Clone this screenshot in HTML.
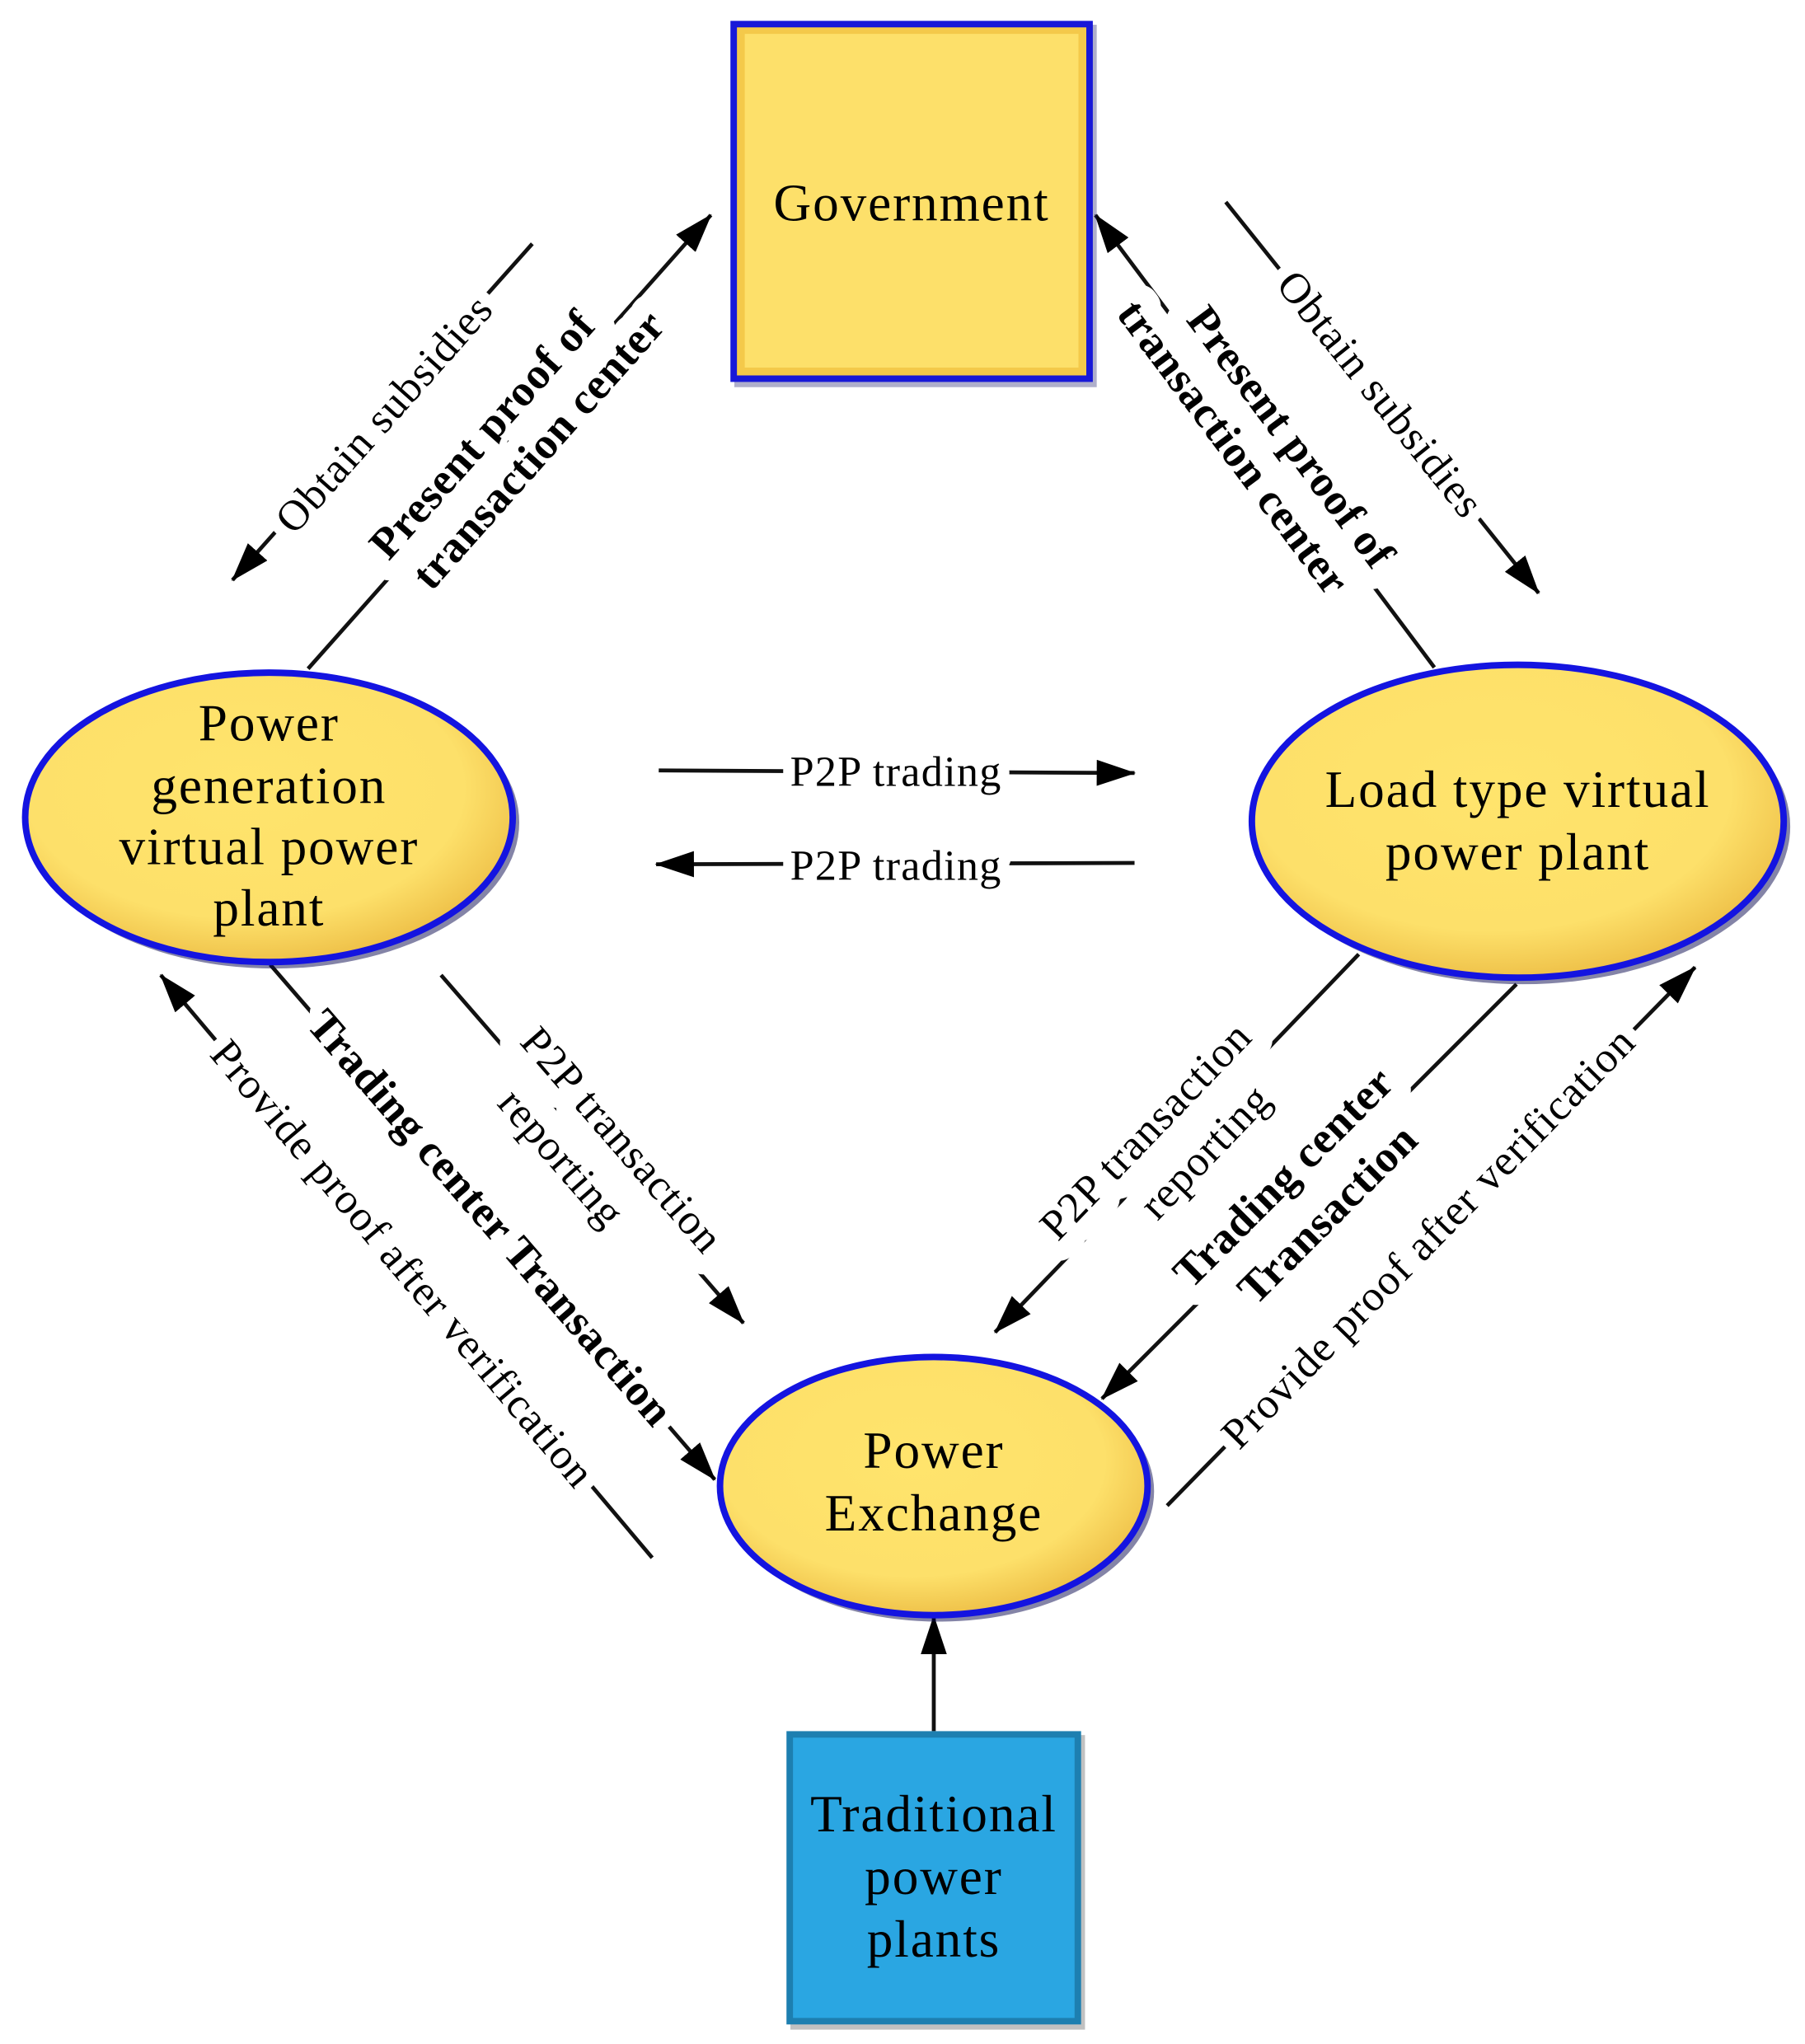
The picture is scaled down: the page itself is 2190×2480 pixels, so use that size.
<!DOCTYPE html>
<html><head><meta charset="utf-8"><style>
html,body{margin:0;padding:0;background:#fff}
svg{display:block}
text{font-family:"Liberation Serif",serif;fill:#000}
.e{font-size:33px;letter-spacing:0.8px}
.b{font-size:34px;font-weight:bold;letter-spacing:0.5px}
.n{font-size:40px;letter-spacing:1.2px}
.h{paint-order:stroke;stroke:#fff;stroke-width:18px;stroke-linejoin:round}
.h2{paint-order:stroke;stroke:#fff;stroke-width:30px;stroke-linejoin:round}
</style></head><body>
<svg width="2190" height="2480" viewBox="0 0 1384 1568" xmlns="http://www.w3.org/2000/svg">
<defs>
<radialGradient id="yg" cx="45%" cy="40%" r="60%">
<stop offset="0" stop-color="#ffe46c"/><stop offset="0.75" stop-color="#fde06a"/><stop offset="1" stop-color="#efc24a"/>
</radialGradient>
<marker id="ar" viewBox="0 0 30 20" refX="29" refY="10" markerWidth="30" markerHeight="20" markerUnits="userSpaceOnUse" orient="auto">
<path d="M0,0 L30,10 L0,20 Z" fill="#000"/>
</marker>
</defs>

<g stroke="#111" stroke-width="3" fill="none">
<line x1="236" y1="513" x2="545" y2="165" marker-end="url(#ar)"/>
<line x1="408" y1="187" x2="178" y2="445" marker-end="url(#ar)"/>
<line x1="1100" y1="512" x2="840" y2="165" marker-end="url(#ar)"/>
<line x1="940" y1="155" x2="1180" y2="455" marker-end="url(#ar)"/>
<line x1="505" y1="591" x2="870" y2="593" marker-end="url(#ar)"/>
<line x1="870" y1="662" x2="503" y2="663" marker-end="url(#ar)"/>
<line x1="500" y1="1195" x2="123" y2="748" marker-end="url(#ar)"/>
<line x1="207" y1="740" x2="548" y2="1135" marker-end="url(#ar)"/>
<line x1="338" y1="748" x2="570" y2="1015" marker-end="url(#ar)"/>
<line x1="1042" y1="732" x2="763" y2="1022" marker-end="url(#ar)"/>
<line x1="1163" y1="755" x2="845" y2="1073" marker-end="url(#ar)"/>
<line x1="895" y1="1155" x2="1300" y2="742" marker-end="url(#ar)"/>
<line x1="716" y1="1328" x2="716" y2="1240" marker-end="url(#ar)"/>
</g>

<g text-anchor="middle">
<text class="b h2" transform="rotate(-48.4 392 340)" x="392" y="340"><tspan x="382" dy="-10">Present proof of</tspan><tspan x="402" dy="40">transaction center</tspan></text>
<text class="e h" transform="rotate(-48.3 295 318)" x="295" y="328">Obtain subsidies</text>
<text class="b h2" transform="rotate(53.2 967 340)" x="967" y="340"><tspan x="977" dy="-10">Present proof of</tspan><tspan x="957" dy="40">transaction center</tspan></text>
<text class="e h" transform="rotate(51.3 1058 303)" x="1058" y="313">Obtain subsidies</text>
<text class="e h" x="687" y="603">P2P trading</text>
<text class="e h" x="687" y="675">P2P trading</text>
<text class="e h" transform="rotate(49.9 308 970)" x="308" y="980">Provide proof after verification</text>
<text class="b h" transform="rotate(49.2 375 935)" x="375" y="945">Trading center Transaction</text>
<text class="e h2" transform="rotate(49 453 882)" x="453" y="882"><tspan x="463" dy="-12">P2P transaction</tspan><tspan x="443" dy="44">reporting</tspan></text>
<text class="e h2" transform="rotate(-46.1 902 876)" x="902" y="876"><tspan x="892" dy="-12">P2P transaction</tspan><tspan x="912" dy="44">reporting</tspan></text>
<text class="b h2" transform="rotate(-45 1002 918)" x="1002" y="918"><tspan x="1000" dy="-12">Trading center</tspan><tspan x="1004" dy="44">Transaction</tspan></text>
<text class="e h" transform="rotate(-45.6 1096 950)" x="1096" y="960">Provide proof after verification</text>
</g>

<rect x="563" y="19" width="278" height="278" fill="#1a1a6a" opacity="0.35"/>
<rect x="560" y="16" width="278" height="277" fill="#1818d8"/>
<rect x="565" y="21" width="268" height="267" fill="#f4c94a"/>
<rect x="571" y="26" width="256" height="256" fill="#fde06a"/>
<text class="n" x="699" y="169" text-anchor="middle">Government</text>

<g>
<ellipse cx="210" cy="631" rx="188" ry="112" fill="#0a0a50" opacity="0.5"/>
<ellipse cx="206" cy="627" rx="187" ry="111" fill="url(#yg)" stroke="#1414e0" stroke-width="5"/>
<text class="n" text-anchor="middle"><tspan x="206" y="568">Power</tspan><tspan x="206" y="616">generation</tspan><tspan x="206" y="663">virtual power</tspan><tspan x="206" y="710">plant</tspan></text>

<ellipse cx="1168" cy="634" rx="205" ry="121" fill="#0a0a50" opacity="0.5"/>
<ellipse cx="1164" cy="630" rx="204" ry="120" fill="url(#yg)" stroke="#1414e0" stroke-width="5"/>
<text class="n" text-anchor="middle"><tspan x="1164" y="619">Load type virtual</tspan><tspan x="1164" y="667">power plant</tspan></text>

<ellipse cx="720" cy="1144" rx="165" ry="100" fill="#0a0a50" opacity="0.5"/>
<ellipse cx="716" cy="1140" rx="164" ry="99" fill="url(#yg)" stroke="#1414e0" stroke-width="5"/>
<text class="n" text-anchor="middle"><tspan x="716" y="1126">Power</tspan><tspan x="716" y="1174">Exchange</tspan></text>
</g>

<rect x="606" y="1331" width="226" height="226" fill="#333" opacity="0.3"/>
<rect x="603" y="1328" width="226" height="225" fill="#1d7fb0"/>
<rect x="608" y="1333" width="216" height="215" fill="#2aa6e2"/>
<text class="n" text-anchor="middle"><tspan x="716" y="1405">Traditional</tspan><tspan x="716" y="1453">power</tspan><tspan x="716" y="1501">plants</tspan></text>
</svg>
</body></html>
